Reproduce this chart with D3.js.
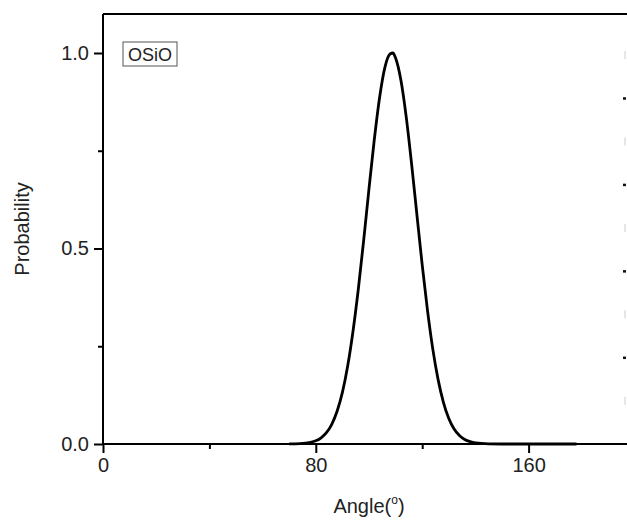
<!DOCTYPE html>
<html>
<head>
<meta charset="utf-8">
<script src="https://cdn.jsdelivr.net/npm/d3@7"></script>
<style>
  html, body { margin: 0; padding: 0; background: #fff; }
  svg { display: block; }
  text { font-family: "Liberation Sans", Arial, sans-serif; fill: #222; }
</style>
</head>
<body>
<svg id="chart" width="627" height="522"></svg>
<script>
// O-Si-O bond angle distribution (degrees) and its normalised probability
const angles = [
  70, 74, 78, 80, 82, 84, 86, 88, 90, 92, 94, 96, 98, 100, 102, 104, 106,
  108, 109, 110, 112, 114, 116, 118, 120, 122, 124, 126, 128, 130, 132, 134,
  136, 138, 140, 145, 150, 160, 170, 178
];
const probability = [
  0.0002, 0.0009, 0.0041, 0.0082, 0.0158, 0.0288, 0.0503, 0.0836, 0.132,
  0.200, 0.289, 0.397, 0.521, 0.653, 0.779, 0.887, 0.964,
  0.998, 1.0, 0.987, 0.930, 0.836, 0.717, 0.587, 0.458, 0.341, 0.242, 0.164,
  0.106, 0.0652, 0.0383, 0.0215, 0.0115, 0.0059, 0.0028, 0.0004, 0, 0, 0, 0
];

const xTicks = [0, 80, 160];
const xMinorTicks = [40, 120, 200];
const yTicks = [0, 0.5, 1.0];
const yMinorTicks = [0.25, 0.75];
const panelLabel = "OSiO";
const xTitle = "Angle(";
const xTitleSup = "o";
const xTitleEnd = ")";
const yTitle = "Probability";

// neighbouring panel's y-axis marks, visible at the right edge
const sideMajor = [0.2, 0.4, 0.6, 0.8];
const sideMinor = [0.1, 0.3, 0.5, 0.7, 0.9];

const svg = d3.select("#chart");
const plotLeft = 103, plotTop = 14, plotBottom = 444;
const fontSize = 20;

const x = d3.scaleLinear().domain([0, 200]).range([plotLeft, plotLeft + 200 * 2.66]);
const y = d3.scaleLinear().domain([0, 1]).range([plotBottom, 53]);
const ySide = d3.scaleLinear().domain([0, 0.9]).range([plotBottom, 55]);

// frame: top edge and the two axes
svg.append("line")
  .attr("x1", plotLeft).attr("x2", 640).attr("y1", plotTop).attr("y2", plotTop)
  .attr("stroke", "#000").attr("stroke-width", 2);

const fmtY = d3.format(".1f");

const gx = svg.append("g").attr("transform", `translate(0,${plotBottom})`)
  .call(d3.axisBottom(x).tickValues(xTicks).tickSize(9).tickPadding(5).tickFormat(d3.format("d")));
const gxm = svg.append("g").attr("transform", `translate(0,${plotBottom})`)
  .call(d3.axisBottom(x).tickValues(xMinorTicks).tickSize(5).tickFormat(""));

const gy = svg.append("g").attr("transform", `translate(${plotLeft},0)`)
  .call(d3.axisLeft(y).tickValues(yTicks).tickSize(9).tickPadding(5).tickFormat(fmtY));
const gym = svg.append("g").attr("transform", `translate(${plotLeft},0)`)
  .call(d3.axisLeft(y).tickValues(yMinorTicks).tickSize(5).tickFormat(""));

gym.select(".domain").remove();
gxm.select(".domain").remove();
gy.select(".domain").attr("d", `M0,${plotTop}V${plotBottom}`);
gx.select(".domain").attr("d", `M${plotLeft},0H640`);

[gx, gy, gxm, gym].forEach(g => {
  g.selectAll(".domain").attr("stroke", "#000").attr("stroke-width", 2);
  g.selectAll(".tick line").attr("stroke", "#000").attr("stroke-width", 2);
  g.selectAll("text").attr("font-size", fontSize).attr("fill", "#222")
    .attr("font-family", "Liberation Sans, Arial, sans-serif");
});

// distribution curve
const line = d3.line()
  .x((d, i) => x(angles[i]))
  .y(d => y(d))
  .curve(d3.curveMonotoneX);

svg.append("path")
  .datum(probability)
  .attr("d", line)
  .attr("fill", "none")
  .attr("stroke", "#000")
  .attr("stroke-width", 2.8)
  .attr("stroke-linejoin", "round");

// panel tag
const tag = svg.append("g").attr("transform", "translate(123,42)");
tag.append("rect").attr("width", 54).attr("height", 24)
  .attr("fill", "#fff").attr("stroke", "#555").attr("stroke-width", 1);
tag.append("text").attr("x", 27).attr("y", 19)
  .attr("text-anchor", "middle").attr("font-size", 18).text(panelLabel);

// axis titles
const xt = svg.append("text")
  .attr("x", (x(0) + x(200)) / 2).attr("y", 513)
  .attr("text-anchor", "middle").attr("font-size", fontSize);
xt.append("tspan").text(xTitle);
xt.append("tspan").attr("font-size", 12).attr("dy", -9).text(xTitleSup);
xt.append("tspan").attr("dy", 9).text(xTitleEnd);

svg.append("text")
  .attr("transform", `translate(29,${(plotTop + plotBottom) / 2}) rotate(-90)`)
  .attr("text-anchor", "middle").attr("font-size", fontSize).text(yTitle);

// marks of the adjacent panel, cut by the right edge
svg.selectAll("rect.sideMajor").data(sideMajor).join("rect")
  .attr("class", "sideMajor")
  .attr("x", 623).attr("y", d => ySide(d) - 1)
  .attr("width", 3).attr("height", 2.5).attr("fill", "#111");
svg.selectAll("rect.sideMinor").data(sideMinor).join("rect")
  .attr("class", "sideMinor")
  .attr("x", 624).attr("y", d => ySide(d) - 4)
  .attr("width", 2).attr("height", 8).attr("fill", "#e6e6e6");
</script>
</body>
</html>
